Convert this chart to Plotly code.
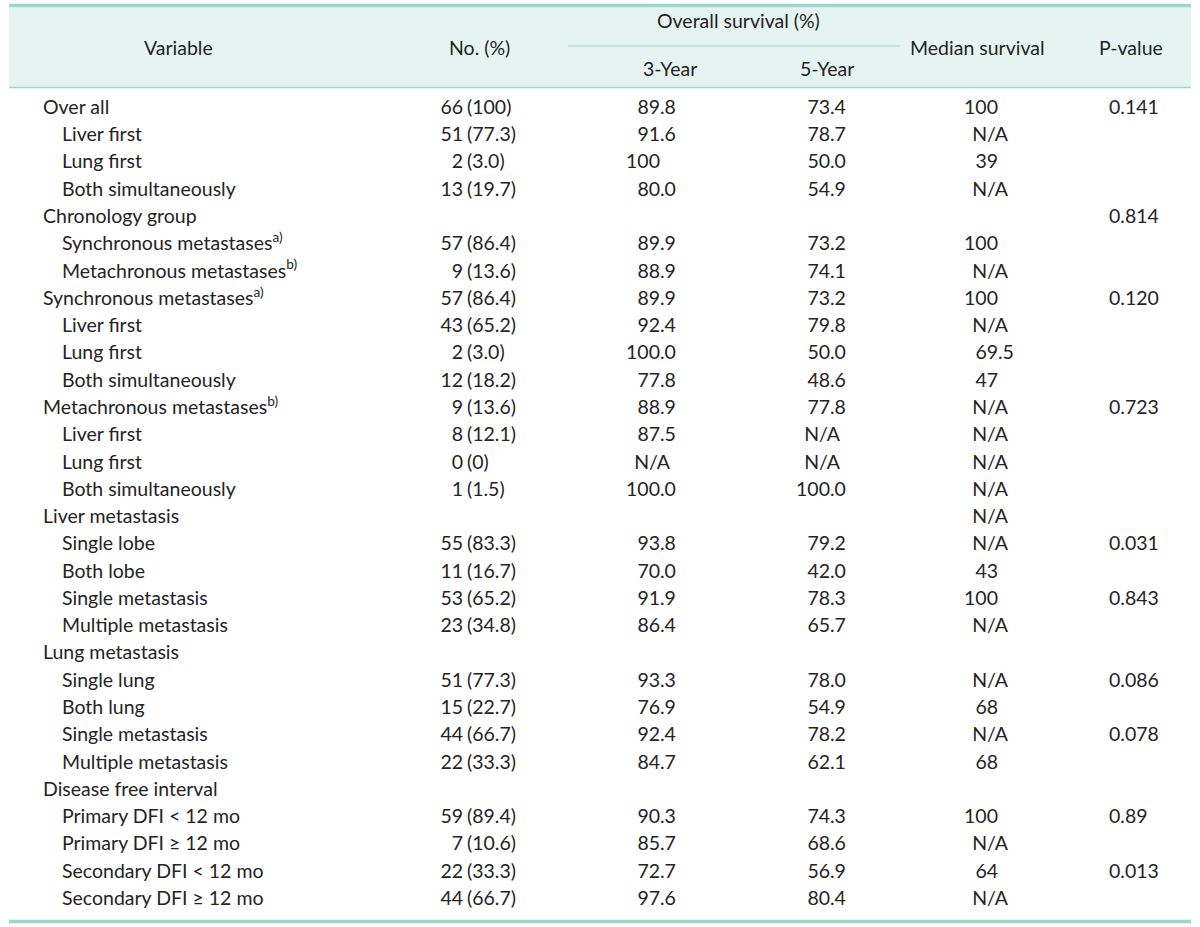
import plotly.graph_objects as go

# ---- table content -------------------------------------------------------
variables = [
    "Over all", "Liver first", "Lung first", "Both simultaneously",
    "Chronology group", "Synchronous metastases<sup>a)</sup>", "Metachronous metastases<sup>b)</sup>",
    "Synchronous metastases<sup>a)</sup>", "Liver first", "Lung first", "Both simultaneously",
    "Metachronous metastases<sup>b)</sup>", "Liver first", "Lung first", "Both simultaneously",
    "Liver metastasis", "Single lobe", "Both lobe", "Single metastasis", "Multiple metastasis",
    "Lung metastasis", "Single lung", "Both lung", "Single metastasis", "Multiple metastasis",
    "Disease free interval", "Primary DFI &lt; 12 mo", "Primary DFI ≥ 12 mo",
    "Secondary DFI &lt; 12 mo", "Secondary DFI ≥ 12 mo",
]
levels = [0, 1, 1, 1, 0, 1, 1, 0, 1, 1, 1, 0, 1, 1, 1, 0, 1, 1, 1, 1, 0, 1, 1, 1, 1, 0, 1, 1, 1, 1]

n_count = ["66", "51", "2", "13", "", "57", "9", "57", "43", "2", "12", "9", "8", "0", "1",
           "", "55", "11", "53", "23", "", "51", "15", "44", "22", "", "59", "7", "22", "44"]
n_pct = ["(100)", "(77.3)", "(3.0)", "(19.7)", "", "(86.4)", "(13.6)", "(86.4)", "(65.2)", "(3.0)",
         "(18.2)", "(13.6)", "(12.1)", "(0)", "(1.5)", "", "(83.3)", "(16.7)", "(65.2)", "(34.8)",
         "", "(77.3)", "(22.7)", "(66.7)", "(33.3)", "", "(89.4)", "(10.6)", "(33.3)", "(66.7)"]

surv_3yr = ["89.8", "91.6", "100", "80.0", "", "89.9", "88.9", "89.9", "92.4", "100.0", "77.8",
            "88.9", "87.5", "N/A", "100.0", "", "93.8", "70.0", "91.9", "86.4", "", "93.3", "76.9",
            "92.4", "84.7", "", "90.3", "85.7", "72.7", "97.6"]
surv_5yr = ["73.4", "78.7", "50.0", "54.9", "", "73.2", "74.1", "73.2", "79.8", "50.0", "48.6",
            "77.8", "N/A", "N/A", "100.0", "", "79.2", "42.0", "78.3", "65.7", "", "78.0", "54.9",
            "78.2", "62.1", "", "74.3", "68.6", "56.9", "80.4"]
median_surv = ["100", "N/A", "39", "N/A", "", "100", "N/A", "100", "N/A", "69.5", "47", "N/A",
               "N/A", "N/A", "N/A", "N/A", "N/A", "43", "100", "N/A", "", "N/A", "68", "N/A", "68",
               "", "100", "N/A", "64", "N/A"]
p_value = ["0.141", "", "", "", "0.814", "", "", "0.120", "", "", "", "0.723", "", "", "", "",
           "0.031", "", "0.843", "", "", "0.086", "", "0.078", "", "", "0.89", "", "0.013", ""]

# ---- styling ---------------------------------------------------------------
W, H = 1200, 927
ROW0, PITCH = 109, 27.28
TEAL = "#9fd5c9"
HEAD_BG = "#e5f4f1"
INK = "#262324"
FONT = "Lato"
FS = 19.5
LEFT, RIGHT = 9, 1191

n = len(variables)
rows = [ROW0 + i * PITCH for i in range(n)]

fig = go.Figure()


def add_text(x, text, pos):
    fig.add_trace(go.Scatter(
        x=x, y=rows, text=text, mode="text", textposition=pos,
        textfont=dict(family=FONT, size=FS, color=INK),
        marker=dict(size=0), hoverinfo="skip", showlegend=False, cliponaxis=False,
    ))


def decimal_column(vals, anchor):
    """Align numbers on the decimal point; N/A sits just past the anchor."""
    ints, fracs, nas = [], [], []
    for v in vals:
        if v == "N/A":
            ints.append(""); fracs.append(""); nas.append(v)
        elif "." in v:
            a, b = v.split(".")
            ints.append(a); fracs.append("." + b); nas.append("")
        else:
            ints.append(v); fracs.append(""); nas.append("")
    add_text([anchor] * n, ints, "middle left")
    add_text([anchor] * n, fracs, "middle right")
    add_text([anchor + 10] * n, nas, "middle left")


add_text([43 if lv == 0 else 62 for lv in levels], variables, "middle right")
add_text([463] * n, n_count, "middle left")
add_text([467] * n, n_pct, "middle right")
decimal_column(surv_3yr, 660)
decimal_column(surv_5yr, 830)
decimal_column(median_surv, 998)
add_text([1109] * n, p_value, "middle right")

# header labels
headers = [
    ("Variable", 178, 47), ("No. (%)", 479, 47), ("Overall survival (%)", 738, 20),
    ("3-Year", 670, 68), ("5-Year", 827, 68), ("Median survival", 977, 47), ("P-value", 1131, 47),
]
for txt, hx, hy in headers:
    fig.add_annotation(x=hx, y=hy, text=txt, showarrow=False, xanchor="center", yanchor="middle",
                       font=dict(family=FONT, size=FS, color=INK))

# rules and header band
fig.add_shape(type="rect", x0=LEFT, x1=RIGHT, y0=6, y1=87, fillcolor=HEAD_BG, line_width=0, layer="below")
fig.add_shape(type="line", x0=LEFT, x1=RIGHT, y0=5.5, y1=5.5, line=dict(color=TEAL, width=3.5))
fig.add_shape(type="line", x0=LEFT, x1=RIGHT, y0=87.5, y1=87.5, line=dict(color=TEAL, width=1.3))
fig.add_shape(type="line", x0=568, x1=900, y0=46, y1=46, line=dict(color=TEAL, width=1))
fig.add_shape(type="line", x0=LEFT, x1=RIGHT, y0=921.5, y1=921.5, line=dict(color=TEAL, width=3.5))

fig.update_layout(
    width=W, height=H,
    margin=dict(l=0, r=0, t=0, b=0),
    paper_bgcolor="white", plot_bgcolor="white",
    xaxis=dict(range=[0, W], visible=False, fixedrange=True),
    yaxis=dict(range=[H, 0], visible=False, fixedrange=True),
    showlegend=False,
)

# drop the page's default body margin so the figure fills the window exactly
fig.write_html(
    "out.html",
    config={"displayModeBar": False, "staticPlot": True},
    post_script="document.body.style.margin='0';document.body.style.overflow='hidden';",
)
